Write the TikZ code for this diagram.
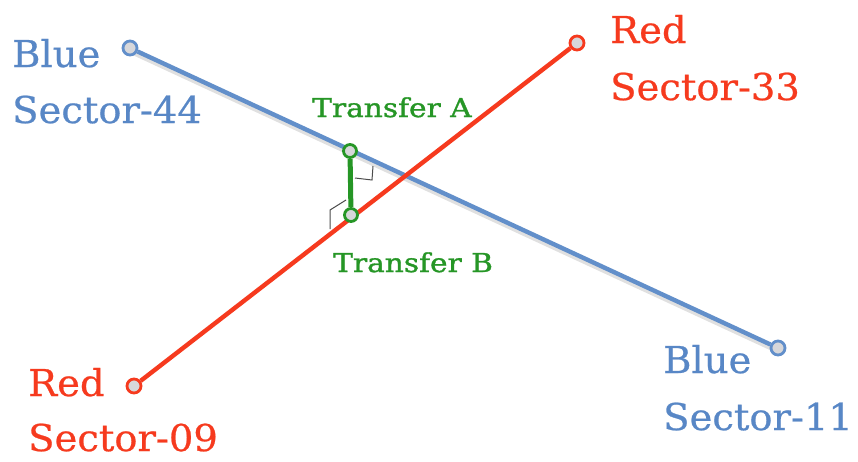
\documentclass[tikz,border=0pt]{standalone}
\usepackage{fontspec}
\newfontfamily\labfont[FakeStretch=1.04,FakeBold=0.6]{DejaVu Serif}
\newfontfamily\trfont[FakeStretch=1.14,FakeBold=1.2]{DejaVu Serif}
\definecolor{bline}{RGB}{98,143,202}
\definecolor{btext}{RGB}{88,135,198}
\definecolor{rline}{RGB}{246,58,30}
\definecolor{gline}{RGB}{38,150,38}
\definecolor{capfill}{RGB}{215,215,218}
\tikzset{
  bigtext/.style={font=\labfont\fontsize{37}{42}\selectfont, inner sep=0pt, anchor=base west},
  smalltext/.style={font=\trfont\fontsize{26}{30}\selectfont, inner sep=0pt, anchor=base west, text=gline},
  endcap/.style={circle, draw, line width=2.8pt, fill=capfill, minimum size=14pt, inner sep=0pt},
  metro/.style={line width=4.4pt},
  shadowline/.style={line width=5pt, draw=black, opacity=0.12},
  rightmark/.style={draw=black!70, line width=1pt}
}
\begin{document}
\begin{tikzpicture}[x=1pt,y=-1pt]
\useasboundingbox[fill=white] (0,0) rectangle (858,461);
% shadows
\draw[shadowline] (132,52) -- (780,352);
% endpoint nodes
\node[endcap, draw=bline] (b1) at (130,48) {};
\node[endcap, draw=bline] (b2) at (778,348) {};
\node[endcap, draw=rline] (r1) at (134,386) {};
\node[endcap, draw=rline] (r2) at (577,43) {};
% lines
\draw[metro, draw=bline] (b1) -- (b2);
\draw[metro, draw=rline] (r1) -- (r2);
% right-angle marks
\draw[rightmark] (355,178) -- (372,180) -- (373,166);
\draw[rightmark] (330,229) -- (330,210) -- (346,200);
% transfer
\node[endcap, draw=gline, minimum size=13pt] (ta) at (350,151) {};
\node[endcap, draw=gline, minimum size=13pt] (tb) at (351,215) {};
\draw[line width=5pt, draw=gline] (ta) -- (tb);
% labels
\node[bigtext, text=btext] (lb1a) at (12,67) {Blue};
\node[bigtext, text=btext] (lb1b) at (12,123) {Sector-44};
\node[bigtext, text=rline] (lr2a) at (610,43) {Red};
\node[bigtext, text=rline] (lr2b) at (610,100) {Sector-33};
\node[bigtext, text=rline] (lr1a) at (28,396) {Red};
\node[bigtext, text=rline] (lr1b) at (28,451) {Sector-09};
\node[bigtext, text=btext] (lb2a) at (663,373) {Blue};
\node[bigtext, text=btext] (lb2b) at (663,430) {Sector-11};
\node[smalltext] (tla) at (312,117) {Transfer A};
\node[smalltext] (tlb) at (333,272) {Transfer B};
\end{tikzpicture}
\end{document}
